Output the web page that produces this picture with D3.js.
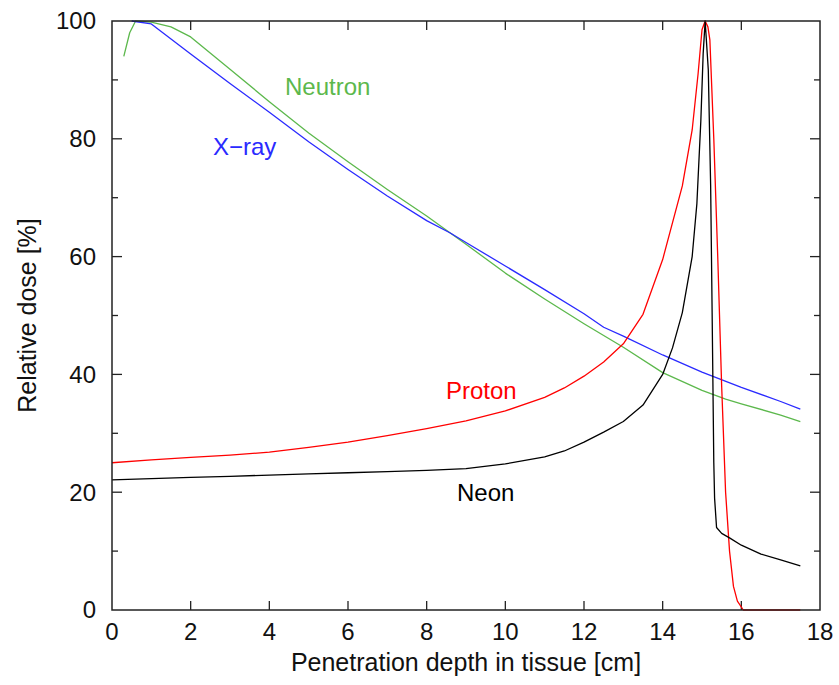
<!DOCTYPE html>
<html>
<head>
<meta charset="utf-8">
<script src="https://cdn.jsdelivr.net/npm/d3@7"></script>
<style>
  html, body { margin: 0; padding: 0; background: #fff; }
  svg { display: block; font-family: "Liberation Sans", Arial, sans-serif; }
</style>
</head>
<body>
<svg id="chart" width="839" height="685"></svg>
<script>
// ---- data ----
const xTicks = [0, 2, 4, 6, 8, 10, 12, 14, 16, 18];
const yTicks = [0, 20, 40, 60, 80, 100];
const yMinorTicks = [10, 30, 50, 70, 90];

const xrayX = [0.5, 1.0, 2, 3, 4, 5, 6, 7, 8, 8.6, 9, 10, 11, 12, 12.5, 13, 14, 15, 16, 17, 17.5];
const xrayY = [100, 99.5, 94.4, 89.4, 84.5, 79.5, 74.8, 70.3, 66.1, 64.0, 62.4, 58.4, 54.4, 50.3, 48.0, 46.5, 43.3, 40.4, 37.8, 35.4, 34.1];

const neutronX = [0.3, 0.45, 0.6, 1.0, 1.5, 2.0, 3, 4, 5, 6, 7, 8, 8.6, 9, 10, 11, 12, 13, 14, 15, 15.6, 16, 17, 17.5];
const neutronY = [94, 98, 100, 99.8, 99.0, 97.3, 91.8, 86.3, 81.0, 76.1, 71.4, 66.9, 64.0, 62.1, 57.2, 52.8, 48.6, 44.6, 40.3, 37.3, 35.8, 35.0, 33.1, 32.0];

const protonX = [0, 1, 2, 3, 4, 5, 6, 7, 8, 9, 10, 11, 11.5, 12, 12.5, 13, 13.5, 14, 14.5, 14.75, 14.9, 15.0, 15.08, 15.15, 15.2, 15.3, 15.4, 15.5, 15.6, 15.7, 15.8, 15.9, 16.05, 17.5];
const protonY = [25, 25.5, 25.9, 26.3, 26.8, 27.6, 28.5, 29.6, 30.8, 32.1, 33.8, 36.1, 37.7, 39.7, 42.1, 45.2, 50.2, 59.5, 72.0, 81.5, 91.0, 98.5, 100, 99.0, 96.8, 80, 60, 38, 20, 10, 4, 1.5, 0, 0];

const neonX = [0, 1, 2, 3, 4, 5, 6, 7, 8, 9, 10, 11, 11.5, 12, 12.5, 13, 13.5, 14, 14.25, 14.5, 14.75, 14.87, 14.97, 15.03, 15.08, 15.16, 15.22, 15.26, 15.3, 15.32, 15.37, 15.5, 15.71, 16, 16.5, 17, 17.5];
const neonY = [22.1, 22.3, 22.5, 22.7, 22.9, 23.1, 23.3, 23.5, 23.7, 24.0, 24.8, 26.0, 27.0, 28.5, 30.2, 32.0, 34.8, 40.0, 44.5, 50.5, 60.0, 69.0, 83.0, 94.5, 100, 91.7, 72.0, 49.0, 25.0, 19.0, 14.0, 13.0, 12.2, 11.0, 9.5, 8.5, 7.5];

const seriesNames = ["X\u2212ray", "Neutron", "Proton", "Neon"];
const seriesColors = ["#2a2aff", "#5cb84c", "#ff0000", "#000000"];

// ---- layout ----
const svg = d3.select("#chart");
const mLeft = 112, mRight = 820, mTop = 21, mBottom = 610;
const x = d3.scaleLinear().domain([0, 18]).range([mLeft, mRight]);
const y = d3.scaleLinear().domain([0, 100]).range([mBottom, mTop]);

const axisColor = "#222";
const fontSize = 24;
const titleSize = 25;

// ticks (inward, mirrored)
const tg = svg.append("g").attr("stroke", axisColor).attr("stroke-width", 1.3);
xTicks.forEach(v => {
  if (v === 0 || v === 18) return;
  tg.append("line").attr("x1", x(v)).attr("x2", x(v)).attr("y1", mBottom).attr("y2", mBottom - 9);
  tg.append("line").attr("x1", x(v)).attr("x2", x(v)).attr("y1", mTop).attr("y2", mTop + 9);
});
yTicks.forEach(v => {
  if (v === 0 || v === 100) return;
  tg.append("line").attr("x1", mLeft).attr("x2", mLeft + 10).attr("y1", y(v)).attr("y2", y(v));
  tg.append("line").attr("x1", mRight).attr("x2", mRight - 10).attr("y1", y(v)).attr("y2", y(v));
});
yMinorTicks.forEach(v => {
  tg.append("line").attr("x1", mLeft).attr("x2", mLeft + 6).attr("y1", y(v)).attr("y2", y(v));
  tg.append("line").attr("x1", mRight).attr("x2", mRight - 6).attr("y1", y(v)).attr("y2", y(v));
});

// tick labels
const lg = svg.append("g").attr("font-size", fontSize).attr("fill", "#111");
xTicks.forEach(v => {
  lg.append("text").attr("x", x(v)).attr("y", 640).attr("text-anchor", "middle").text(v);
});
yTicks.forEach(v => {
  lg.append("text").attr("x", 96).attr("y", y(v)).attr("dy", "0.35em").attr("text-anchor", "end").text(v);
});

// axis titles
svg.append("text").attr("x", (mLeft + mRight) / 2).attr("y", 671)
  .attr("text-anchor", "middle").attr("font-size", titleSize).attr("fill", "#111")
  .text("Penetration depth in tissue [cm]");
svg.append("text").attr("transform", `translate(36,${(mTop + mBottom) / 2}) rotate(-90)`)
  .attr("text-anchor", "middle").attr("font-size", titleSize).attr("fill", "#111")
  .text("Relative dose [%]");

// lines
const line = d3.line().x(d => x(d[0])).y(d => y(d[1]));
const allX = [xrayX, neutronX, protonX, neonX];
const allY = [xrayY, neutronY, protonY, neonY];
const plotG = svg.append("g");
[1, 0, 2, 3].forEach(i => {
  const pts = allX[i].map((v, j) => [v, allY[i][j]]);
  plotG.append("path").attr("d", line(pts)).attr("fill", "none")
    .attr("stroke", seriesColors[i]).attr("stroke-width", 1.3).attr("stroke-linejoin", "round");
});

// frame
svg.append("rect").attr("x", mLeft).attr("y", mTop).attr("width", mRight - mLeft).attr("height", mBottom - mTop)
  .attr("fill", "none").attr("stroke", axisColor).attr("stroke-width", 1.5);

// series labels
const labelPos = [[213, 155], [285, 95], [446, 399], [457, 501]];
seriesNames.forEach((n, i) => {
  svg.append("text").attr("x", labelPos[i][0]).attr("y", labelPos[i][1])
    .attr("font-size", fontSize).attr("fill", seriesColors[i]).text(n);
});
</script>
</body>
</html>
